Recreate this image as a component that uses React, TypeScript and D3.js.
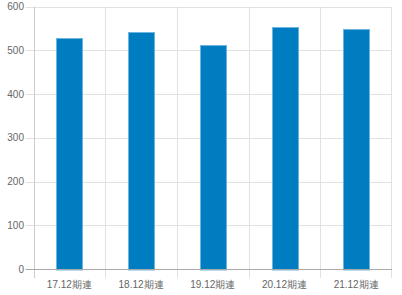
import React from "react";
import * as d3 from "d3";

const categories = ["17.12期連", "18.12期連", "19.12期連", "20.12期連", "21.12期連"];
const values = [528, 542, 513, 554, 549];
const yTicks = [0, 100, 200, 300, 400, 500, 600];

export default function App() {
  const W = 402, H = 295;
  const left = 33.5, right = 392, top = 6.7, bottom = 269;
  const x = d3.scaleBand<string>().domain(categories).range([left, right]);
  const y = d3.scaleLinear().domain([0, 600]).range([bottom, top]);
  const bw = x.bandwidth() * 0.36;
  const font = "'Liberation Sans', Arial, sans-serif";
  return (
    <svg width={W} height={H} style={{ position: "absolute", left: 0, top: 0 }}>
      {yTicks.map((t) => (
        <g key={t}>
          <line x1={left - 8} x2={right} y1={Math.round(y(t)) + 0.5} y2={Math.round(y(t)) + 0.5}
            stroke={t === 0 ? "#aaa" : "#e2e2e2"} strokeWidth={1} />
          <text x={24} y={y(t)} dy="0.35em" textAnchor="end" fontSize={10} fill="#666" fontFamily={font}>{t}</text>
        </g>
      ))}
      {categories.map((c, i) => (
        <line key={c} x1={Math.round(x(c)!) + 0.5} x2={Math.round(x(c)!) + 0.5} y1={top} y2={bottom + 9}
          stroke={i === 0 ? "#ccc" : "#e2e2e2"} strokeWidth={1} />
      ))}
      <line x1={Math.round(right) - 0.5} x2={Math.round(right) - 0.5} y1={top} y2={bottom + 9} stroke="#e2e2e2" />
      {categories.map((c, i) => {
        const cx = x(c)! + x.bandwidth() / 2;
        const x0 = Math.round(cx - bw / 2) + 0.5;
        const y0 = Math.round(y(values[i])) + 0.5;
        return (
          <g key={c}>
            <rect x={x0} y={y0} width={Math.round(bw)} height={y(0) - y0 + 1} fill="#007dc1" stroke="#6db5de" strokeWidth={1} />
            <text x={cx} y={288} textAnchor="middle" fontSize={10} fill="#666" fontFamily={font}>{c}</text>
          </g>
        );
      })}
      <line x1={left} x2={right} y1={Math.round(y(0)) + 0.5} y2={Math.round(y(0)) + 0.5} stroke="#aaa" />
    </svg>
  );
}
